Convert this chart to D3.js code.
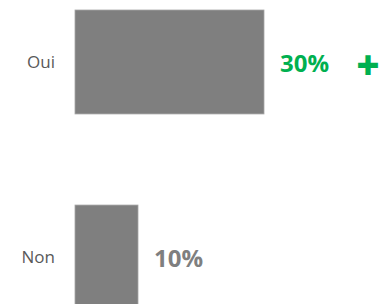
<!DOCTYPE html>
<html>
<head>
<meta charset="utf-8">
<script src="https://cdn.jsdelivr.net/npm/d3@7"></script>
<style>
  body { margin: 0; background: #fff; }
  svg { display: block; }
</style>
</head>
<body>
<div id="chart"></div>
<script>
// data
const categories = ["Oui", "Non"];
const values = [0.30, 0.10];
const valueLabels = ["30%", "10%"];
const labelColors = ["#00b050", "#7f7f7f"];
const markers = ["+", ""];

const width = 382;
const height = 304;
const fontFamily = "'Open Sans', 'Liberation Sans', sans-serif";

const svg = d3.select("#chart")
    .append("svg")
    .attr("width", width)
    .attr("height", height);

// x scale: 30% spans from 75 to 264
const x = d3.scaleLinear()
    .domain([0, 0.30])
    .range([75, 264]);

const y = d3.scaleBand()
    .domain(categories)
    .range([10, 309])
    .paddingInner(0.467)
    .paddingOuter(0);

// bars
svg.selectAll("rect.bar")
    .data(categories)
    .enter()
    .append("rect")
    .attr("class", "bar")
    .attr("x", x(0))
    .attr("y", d => y(d))
    .attr("width", (d, i) => x(values[i]) - x(0))
    .attr("height", y.bandwidth())
    .attr("fill", "#7f7f7f")
    .attr("stroke", "#a6a6a6")
    .attr("stroke-width", 0.8);

// category labels
svg.selectAll("text.cat")
    .data(categories)
    .enter()
    .append("text")
    .attr("class", "cat")
    .attr("x", 55)
    .attr("y", d => y(d) + y.bandwidth() / 2)
    .attr("dy", "0.35em")
    .attr("text-anchor", "end")
    .style("font", "17px " + fontFamily)
    .attr("fill", "#595959")
    .text(d => d);

// value labels
svg.selectAll("text.val")
    .data(categories)
    .enter()
    .append("text")
    .attr("class", "val")
    .attr("x", (d, i) => x(values[i]) + 16)
    .attr("y", d => y(d) + y.bandwidth() / 2)
    .attr("dy", "0.4em")
    .style("font", "bold 24px " + fontFamily)
    .attr("fill", (d, i) => labelColors[i])
    .text((d, i) => valueLabels[i]);

// trend marker
svg.selectAll("text.marker")
    .data(categories)
    .enter()
    .append("text")
    .attr("class", "marker")
    .attr("x", 368)
    .attr("y", d => y(d) + y.bandwidth() / 2 + 4)
    .attr("dy", "0.35em")
    .attr("text-anchor", "middle")
    .style("font", "800 40px " + fontFamily)
    .attr("fill", "#00b050")
    .text((d, i) => markers[i]);
</script>
</body>
</html>
